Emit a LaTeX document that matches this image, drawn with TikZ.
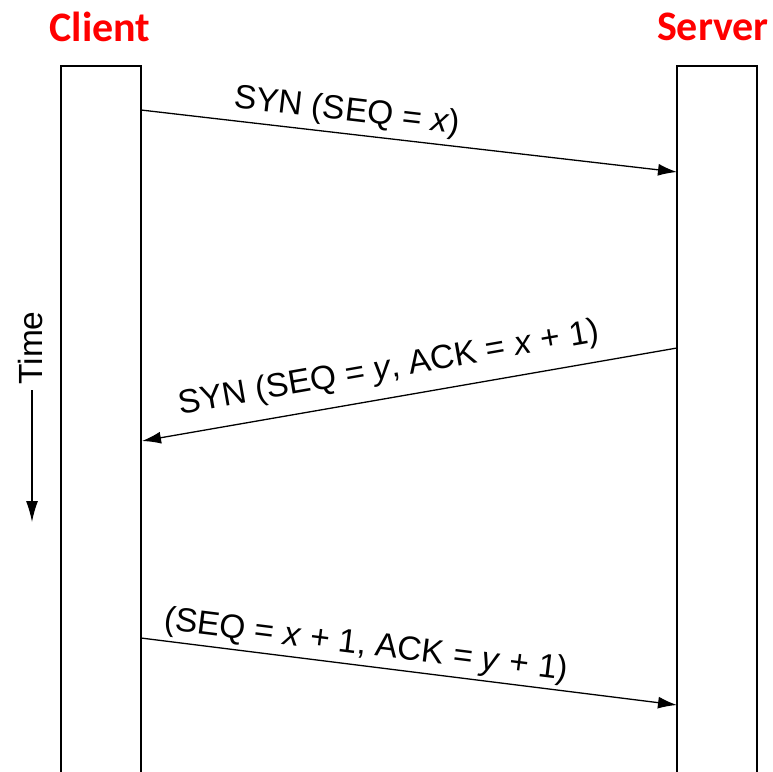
\documentclass[tikz,border=0pt]{standalone}
\usepackage{fontspec}
\setmainfont{Liberation Sans}
\newfontfamily\titlefont{Carlito}
\usetikzlibrary{arrows.meta}
\definecolor{titlered}{RGB}{255,0,0}
\tikzset{
  hostbox/.style={draw, line width=1.6pt},
  msg/.style={line width=1.3pt, -{Latex[length=19pt,width=12pt]}},
  msglabel/.style={font=\fontsize{33.5}{33.5}\selectfont, inner sep=0pt},
  hosttitle/.style={font=\titlefont\bfseries\fontsize{42}{42}\selectfont, text=titlered, inner sep=0pt}
}
\begin{document}
\begin{tikzpicture}[x=1pt, y=-1pt]
  \useasboundingbox (0,0) rectangle (773,771);

  % titles
  \node[hosttitle] (ctitle) at (100,27) {Client};
  \node[hosttitle] (stitle) at (713,27) {Server};

  % host lifelines (open at the bottom)
  \draw[hostbox] (61,775) -- (61,66) -- (141,66) -- (141,775);
  \draw[hostbox] (677,775) -- (677,66) -- (757,66) -- (757,775);

  % message end points on the lifelines
  \coordinate (c1) at (141,110);
  \coordinate (s1) at (677,172);
  \coordinate (s2) at (677,348);
  \coordinate (c2) at (142,441);
  \coordinate (c3) at (141,638);
  \coordinate (s3) at (677,705);

  % messages
  \draw[msg] (c1) -- (s1);
  \draw[msg] (s2) -- (c2);
  \draw[msg] (c3) -- (s3);

  % labels
  \node[msglabel, rotate=-6.6] (l1) at (347,112) {SYN (SEQ = \textit{x})};
  \node[msglabel, rotate=9.9] (l2) at (389,369) {SYN (SEQ = \textit{y}, ACK = \textit{x} + 1)};
  \node[msglabel, rotate=-7.1] (l3) at (366,646) {(SEQ = \textit{x} + 1, ACK = \textit{y} + 1)};

  % time axis
  \node[msglabel, rotate=90] (time) at (31,348) {Time};
  \coordinate (tend) at (32,522);
  \draw[line width=1.3pt, -{Latex[length=21pt,width=12pt]}] (32,390) -- (tend);
\end{tikzpicture}
\end{document}
